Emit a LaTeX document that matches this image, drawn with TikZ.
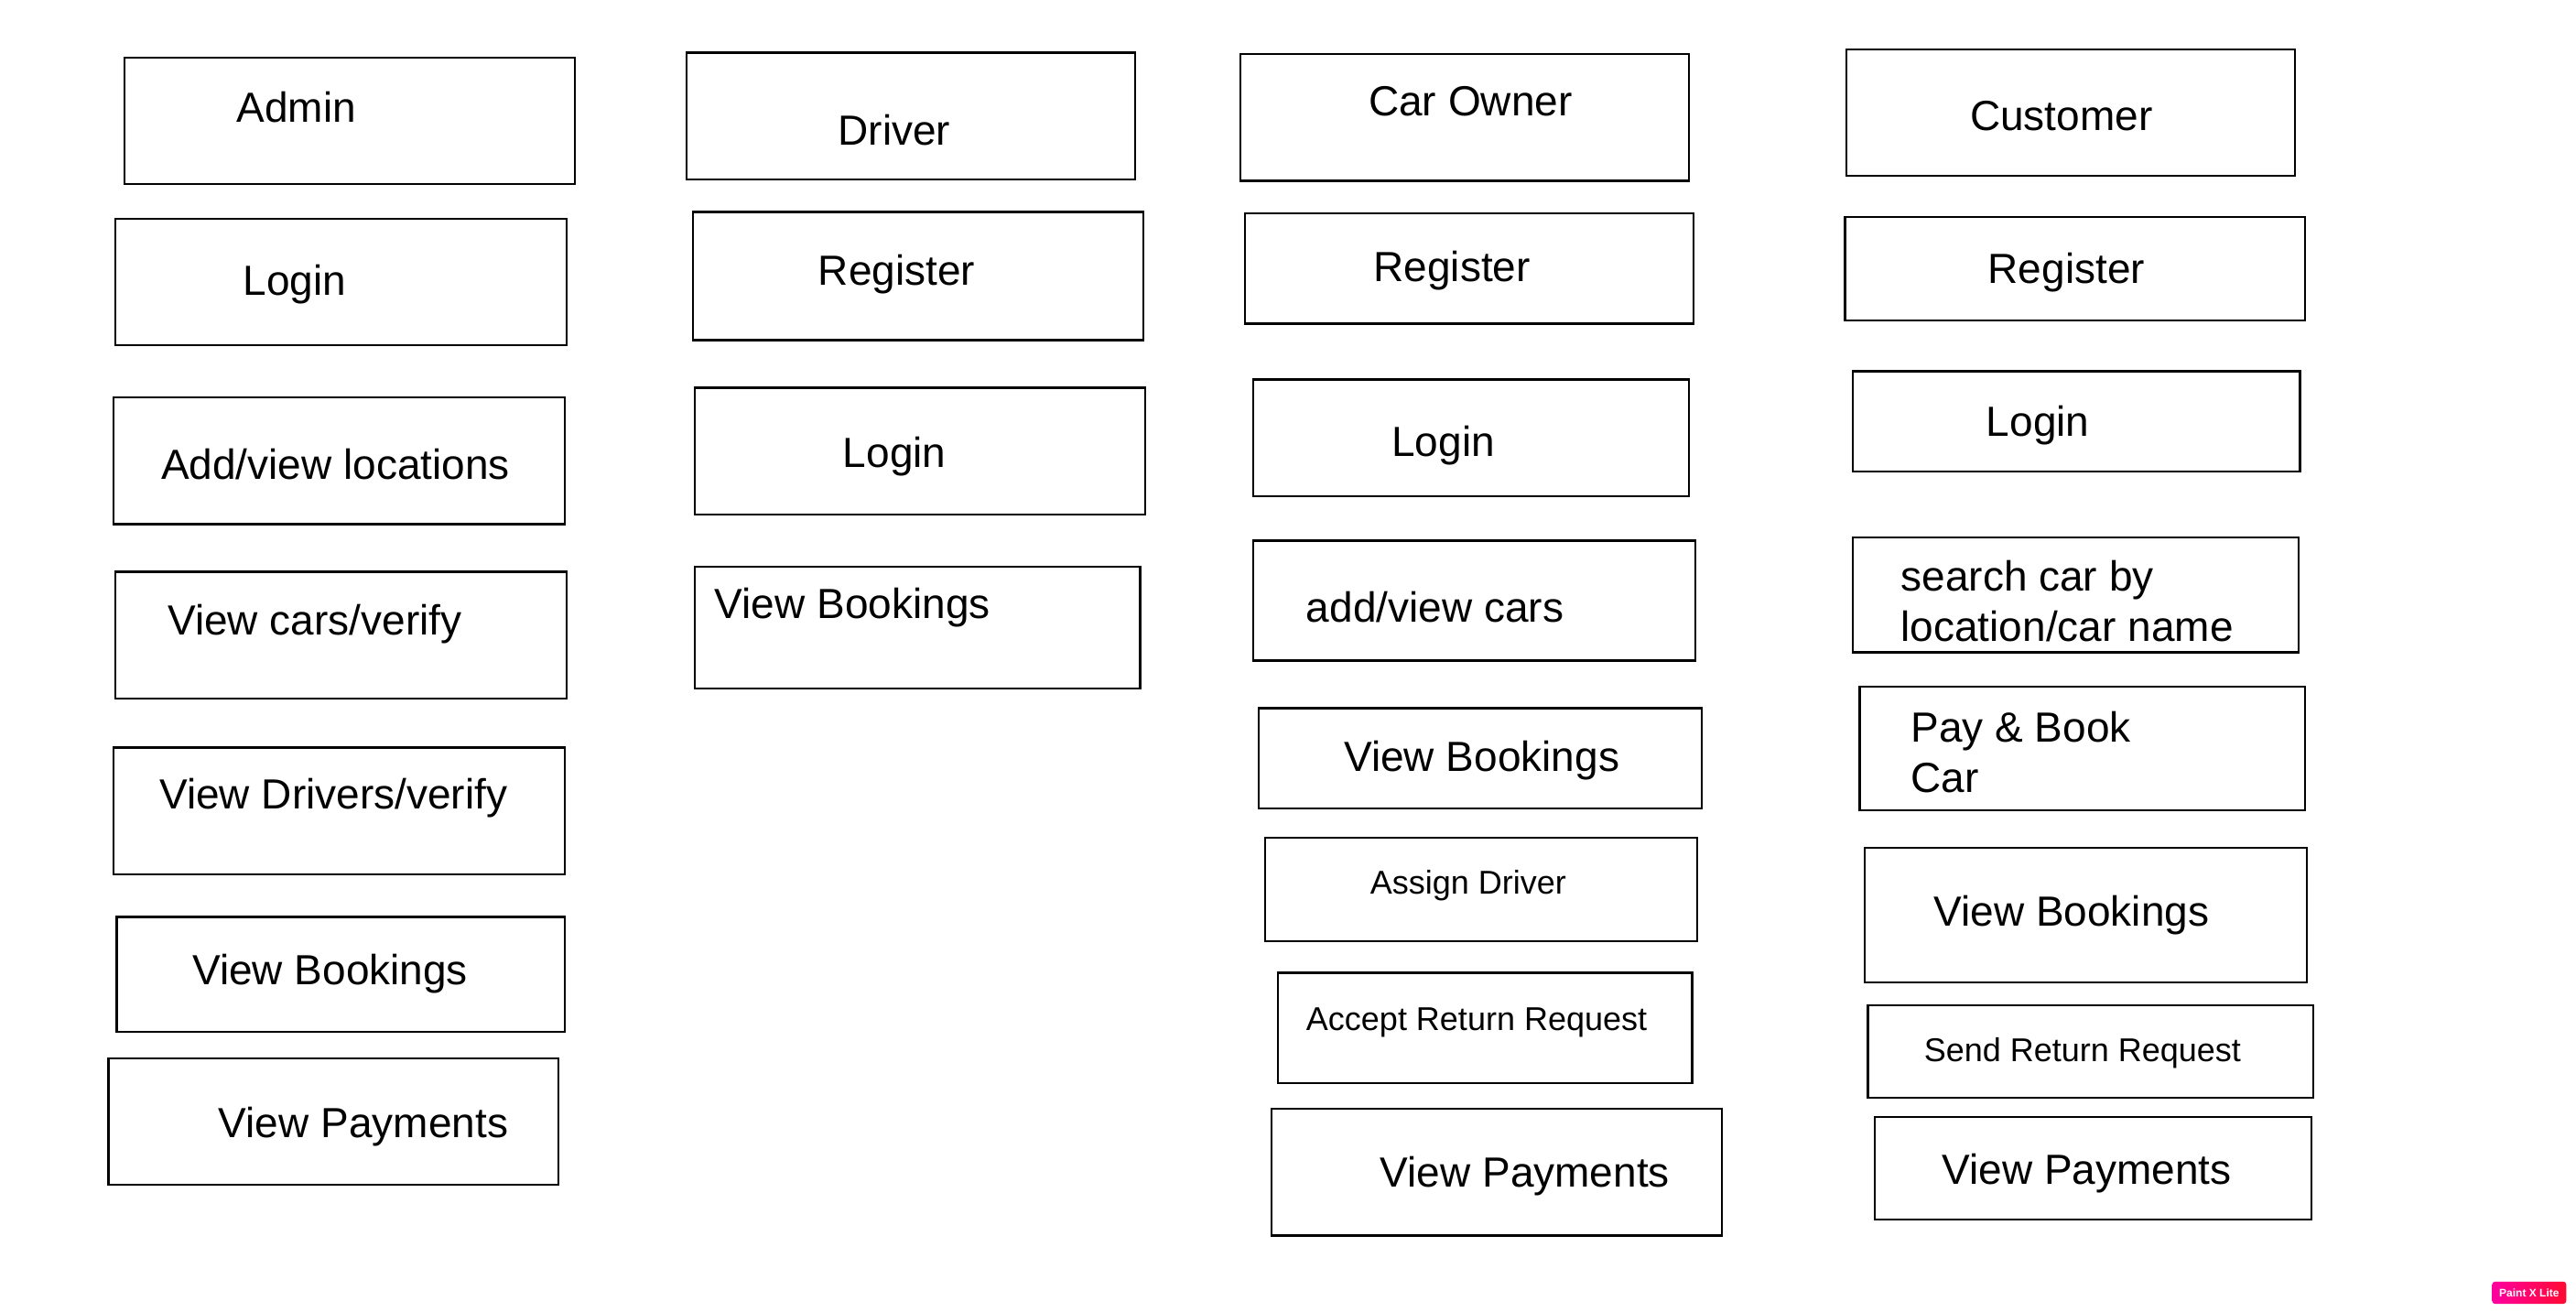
\documentclass[tikz,border=0pt]{standalone}
\usepackage{fontspec}
\setmainfont{Liberation Sans}
\begin{document}
\begin{tikzpicture}[x=1.7946pt,y=-1.7946pt,
  boxline/.style={draw=black,line width=2.2pt},
  big/.style={anchor=base west,inner sep=0pt,font=\fontsize{46}{55}\selectfont},
  small/.style={anchor=base west,inner sep=0pt,font=\fontsize{36}{43}\selectfont}]
\useasboundingbox[fill=white] (0,0) rectangle (1568,798);
\newcommand{\bx}[5]{\draw[boxline] (#2,#3) rectangle (#4,#5) coordinate (#1);}
% Column 1: Admin
\bx{b11}{76}{35}{350}{112}   \node[big] (t11) at (144,74.5) {Admin};
\bx{b12}{70}{133}{345}{210}  \node[big] (t12) at (148,179.5) {Login};
\bx{b13}{69}{242}{344}{319}  \node[big] (t13) at (98,291.5) {Add/view locations};
\bx{b14}{70}{348}{345}{425}  \node[big] (t14) at (102,386.5) {View cars/verify};
\bx{b15}{69}{455}{344}{532}  \node[big] (t15) at (97,492.5) {View Drivers/verify};
\bx{b16}{71}{558}{344}{628}  \node[big] (t16) at (117,599.5) {View Bookings};
\bx{b17}{66}{644}{340}{721}  \node[big] (t17) at (133,692.5) {View Payments};
% Column 2: Driver
\bx{b21}{418}{32}{691}{109}  \node[big] (t21) at (510,88.5) {Driver};
\bx{b22}{422}{129}{696}{207} \node[big] (t22) at (498,173.5) {Register};
\bx{b23}{423}{236}{697}{313} \node[big] (t23) at (513,284.5) {Login};
\bx{b24}{423}{345}{694}{419} \node[big] (t24) at (435,376.5) {View Bookings};
% Column 3: Car Owner
\bx{b31}{755}{33}{1028}{110}  \node[big] (t31) at (833,70.5) {Car Owner};
\bx{b32}{758}{130}{1031}{197} \node[big] (t32) at (836,171.5) {Register};
\bx{b33}{763}{231}{1028}{302} \node[big] (t33) at (847,277.5) {Login};
\bx{b34}{763}{329}{1032}{402} \node[big] (t34) at (795,378.5) {add/view cars};
\bx{b35}{766}{431}{1036}{492} \node[big] (t35) at (818,469.5) {View Bookings};
\bx{b36}{770}{510}{1033}{573} \node[small] (t36) at (834,544) {Assign Driver};
\bx{b37}{778}{592}{1030}{659} \node[small] (t37) at (795,627) {Accept Return Request};
\bx{b38}{774}{675}{1048}{752} \node[big] (t38) at (840,722.5) {View Payments};
% Column 4: Customer
\bx{b41}{1124}{30}{1397}{107}  \node[big] (t41) at (1199,79.5) {Customer};
\bx{b42}{1123}{132}{1403}{195} \node[big] (t42) at (1210,172.5) {Register};
\bx{b43}{1128}{226}{1400}{287} \node[big] (t43) at (1209,265.5) {Login};
\bx{b44}{1128}{327}{1399}{397}
\node[big] (t44a) at (1157,359.5) {search car by};
\node[big] (t44b) at (1157,390.5) {location/car name};
\bx{b45}{1132}{418}{1403}{493}
\node[big] (t45a) at (1163,451.5) {Pay \& Book};
\node[big] (t45b) at (1163,482.5) {Car};
\bx{b46}{1135}{516}{1404}{598} \node[big] (t46) at (1177,563.5) {View Bookings};
\bx{b47}{1137}{612}{1408}{668} \node[small] (t47) at (1171,646) {Send Return Request};
\bx{b48}{1141}{680}{1407}{742} \node[big] (t48) at (1182,720.5) {View Payments};
% watermark badge
\definecolor{wmA}{RGB}{255,0,160}
\definecolor{wmB}{RGB}{255,10,50}
\shade[left color=wmA,right color=wmB,rounded corners=3pt] (1517,780) rectangle (1562,793.5);
\node[inner sep=0pt,text=white,font=\bfseries\fontsize{12}{12}\selectfont] (wm) at (1539.5,786.8) {Paint X Lite};
\end{tikzpicture}
\end{document}
